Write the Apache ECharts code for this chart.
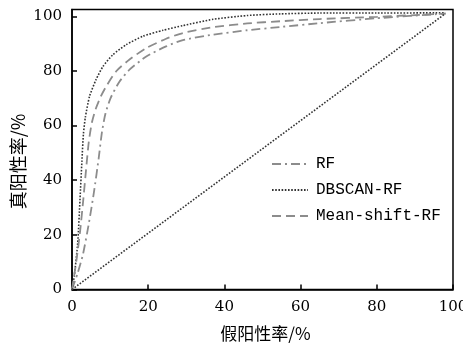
<!DOCTYPE html>
<html>
<head>
<meta charset="utf-8">
<script src="https://cdn.jsdelivr.net/npm/echarts@6/dist/echarts.min.js"></script>
<style>
  html, body { margin: 0; padding: 0; background: #fff; }
  #rocChart { width: 463px; height: 345px; }
</style>
</head>
<body>
<div id="rocChart"></div>
<script>
  // 图例名称
  var seriesNames = ['RF', 'DBSCAN-RF', 'Mean-shift-RF']
  var xTicks = [0, 20, 40, 60, 80, 100]
  var yTicks = [0, 20, 40, 60, 80, 100]

  // RF 曲线 (点划线)
  var rfX = [0, 1.5, 2.9, 4.4, 5.8, 7.0, 7.9, 8.8, 10.1, 12.4, 15.1, 19.5, 24.7, 29.1, 37, 46, 54.7, 65, 80, 98]
  var rfY = [0, 6, 13, 24, 36, 48, 58, 64.5, 70, 76, 80.5, 85.3, 89, 91.3, 93.3, 94.9, 96.1, 97.5, 99.3, 101]
  // DBSCAN-RF 曲线 (点线)
  var dbX = [0, 0.6, 1.5, 2.1, 2.6, 3.0, 3.5, 4.6, 6.3, 8.1, 10.7, 14.2, 18.6, 23.9, 29.1, 37, 46, 54.7, 65, 80, 98]
  var dbY = [0, 5, 17, 33, 47, 57, 63, 70.7, 76.8, 81.6, 85.9, 89.6, 92.7, 94.9, 96.6, 98.9, 100.3, 100.9, 101.2, 101.2, 101.3]
  // Mean-shift-RF 曲线 (虚线)
  var msX = [0, 1.2, 2.1, 2.9, 3.7, 4.4, 5.2, 6.2, 7.5, 9, 11.6, 15.1, 19.5, 24.7, 29.1, 37, 46, 54.7, 65, 80, 98]
  var msY = [0, 11, 21, 32, 44, 54, 61, 66, 70.5, 74.4, 79.9, 84.2, 88.4, 91.8, 93.9, 96, 97.4, 98.2, 99, 99.8, 101]
  // 对角线
  var diagX = [0, 98]
  var diagY = [0, 101]

  function toPairs(xs, ys) {
    return xs.map(function(x, i) { return [x, ys[i]] })
  }

  var numFont = 'DejaVu Serif'
  var cjkFont = 'Noto Sans CJK SC'

  var chart = echarts.init(document.getElementById('rocChart'))
  var options = {
    animation: false,
    grid: {
      left: 72,
      right: 10,
      top: 9.5,
      bottom: 55.5,
      outerBoundsMode: 'none',
      show: true,
      borderColor: '#000',
      borderWidth: 1.5
    },
    legend: {
      orient: 'vertical',
      left: 266,
      top: 151,
      itemWidth: 36,
      itemHeight: 14,
      itemGap: 10,
      data: seriesNames,
      itemStyle: { opacity: 0 },
      textStyle: {
        fontFamily: 'Liberation Mono',
        fontSize: 16,
        color: '#000',
        padding: [0, 0, 0, 3]
      }
    },
    xAxis: {
      type: 'value',
      min: 0,
      max: 100,
      interval: 20,
      name: '假阳性率/%',
      nameLocation: 'middle',
      nameGap: 36,
      nameMoveOverlap: false,
      nameTextStyle: { fontFamily: cjkFont, fontSize: 17, color: '#000', padding: [0, 0, 0, 6] },
      axisLine: { lineStyle: { color: '#000', width: 1.5 } },
      axisTick: { inside: true, length: 5, customValues: xTicks, lineStyle: { color: '#000', width: 1.5 } },
      axisLabel: { customValues: xTicks, margin: 10, fontFamily: numFont, fontSize: 15, color: '#000' },
      splitLine: { show: false }
    },
    yAxis: {
      type: 'value',
      min: 0,
      max: 102.5,
      interval: 20,
      name: '真阳性率/%',
      nameLocation: 'middle',
      nameGap: 45,
      nameMoveOverlap: false,
      nameTextStyle: { fontFamily: cjkFont, fontSize: 18, color: '#000', padding: [0, 24, 0, 0] },
      axisLine: { lineStyle: { color: '#000', width: 1.5 } },
      axisTick: { inside: true, length: 5, customValues: yTicks, lineStyle: { color: '#000', width: 1.5 } },
      axisLabel: { customValues: yTicks, margin: 10, fontFamily: numFont, fontSize: 15, color: '#000' },
      splitLine: { show: false }
    },
    series: [
      {
        name: 'RF',
        type: 'line',
        data: toPairs(rfX, rfY),
        symbol: 'none',
        smooth: 0.2,
        lineStyle: { color: '#8c8c8c', width: 1.8, type: [9, 4, 2, 4] },
        itemStyle: { color: '#8c8c8c' }
      },
      {
        name: 'DBSCAN-RF',
        type: 'line',
        data: toPairs(dbX, dbY),
        symbol: 'none',
        smooth: 0.2,
        lineStyle: { color: '#333', width: 1.6, type: [1.6, 1.6] },
        itemStyle: { color: '#333' }
      },
      {
        name: 'Mean-shift-RF',
        type: 'line',
        data: toPairs(msX, msY),
        symbol: 'none',
        smooth: 0.2,
        lineStyle: { color: '#8c8c8c', width: 1.8, type: [9, 5] },
        itemStyle: { color: '#8c8c8c' }
      },
      {
        name: 'diag',
        type: 'line',
        data: toPairs(diagX, diagY),
        symbol: 'none',
        lineStyle: { color: '#333', width: 1.6, type: [1.6, 1.6] },
        silent: true
      }
    ]
  }
  chart.setOption(options)
</script>
</body>
</html>
